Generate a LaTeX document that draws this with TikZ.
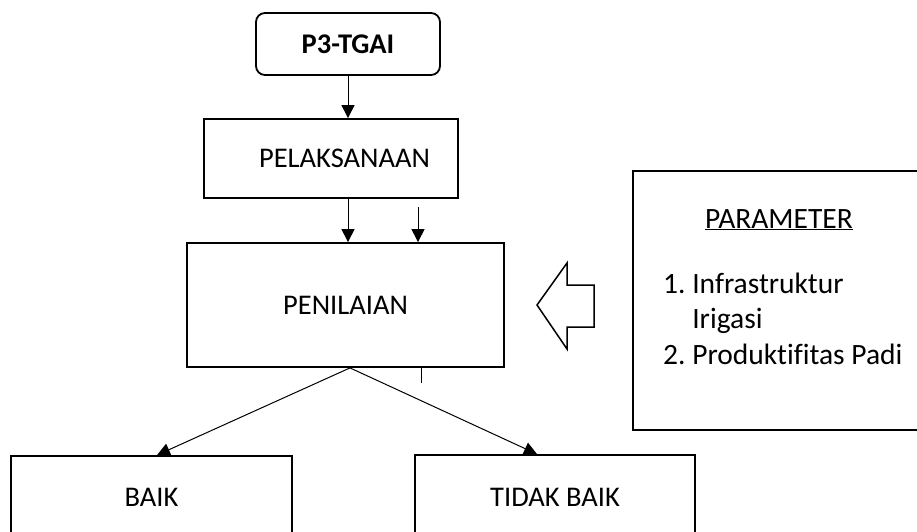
\documentclass[tikz,border=0pt]{standalone}
\usepackage{fontspec}
\setmainfont{Carlito}[Ligatures=NoCommon]
\usetikzlibrary{
    arrows.meta,                      % Triangle tips
    calc                              % coordinate shifts
}
\tikzset{
    block/.style={
        rectangle, draw, line width=1.8pt,
        align=center, inner sep=0pt,
        font=\fontsize{28.5}{34}\selectfont
    },
    startbox/.style={
        block, rounded corners=9pt
    },
    paramtext/.style={
        inner sep=0pt, font=\fontsize{29.5}{35.5}\selectfont
    },
    arrow/.style={
        -{Triangle[width=13pt,length=13pt]}, line width=1pt
    },
    hollow/.style={
        draw, line width=1.5pt, fill=white, line join=miter
    }
}

\begin{document}
\begin{tikzpicture}[x=1pt, y=-1pt]
    \useasboundingbox (0,0) rectangle (917,531);

    \node[startbox, minimum width=184pt, minimum height=62pt, font=\fontsize{28.5}{34}\selectfont\bfseries]
        (p3) at (348,44) {P3-TGAI};
    \node[block, minimum width=254pt, minimum height=79pt] (pelak) at (331,158.5)
        {\hspace*{27pt}PELAKSANAAN};
    \node[block, minimum width=317pt, minimum height=124pt] (penil) at (345.5,305)
        {PENILAIAN};
    \node[block, minimum width=281pt, minimum height=82pt] (baik) at (151.5,497)
        {BAIK};
    \node[block, minimum width=280pt, minimum height=84pt] (tidak) at (555,497)
        {TIDAK BAIK};

    % --- Kotak parameter ---
    \node[block, minimum width=292pt, minimum height=259pt] (param) at (779,300.5) {};
    \node[paramtext, anchor=base] (paramtitle) at (779,228) {\underline{PARAMETER}};
    \node[paramtext, anchor=base west, align=left] (paramlist) at (663,364)
        {1.~Infrastruktur\\\phantom{1.~}Irigasi\\2.~Produktifitas Padi};

    % --- Panah besar berongga ---
    \draw[hollow] (537,305) -- (567,263) -- (567,285) -- (594,285)
        -- (594,327) -- (567,327) -- (567,349) -- cycle;

    % --- Alur utama ---
    \draw[arrow] (p3.south) -- (p3.south |- pelak.north);
    \draw[arrow] (pelak.south -| p3.south) -- (penil.north -| p3.south);
    \coordinate (extra) at (418,207);
    \draw[arrow] (extra) -- (extra |- penil.north);
    \coordinate (tick) at (421,383);
    \draw[line width=1pt] (tick |- penil.south) -- (tick);

    % --- Percabangan hasil ---
    \coordinate (apex) at ($(penil.south)+(4.5,0)$);
    \draw[arrow] (apex) -- ($(baik.north)+(5.5,0)$);
    \draw[arrow] (apex) -- ($(tidak.north)+(-18,0)$);
\end{tikzpicture}
\end{document}
